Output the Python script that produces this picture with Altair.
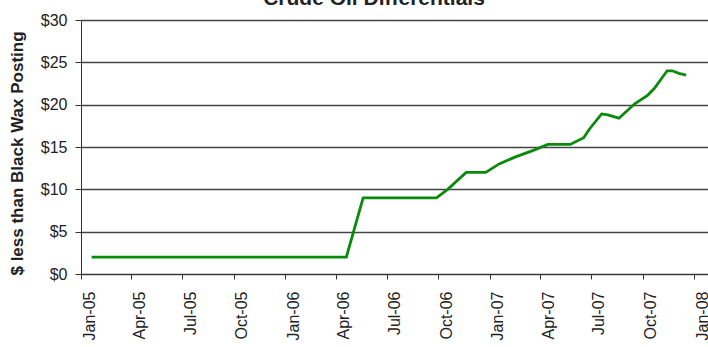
import altair as alt
import pandas as pd

title_text = "Crude Oil Differentials"
y_title = "$ less than Black Wax Posting"

dates = ["2005-01-20", "2006-04-20", "2006-05-20", "2006-09-28", "2006-10-18",
         "2006-11-20", "2006-12-25", "2007-01-18", "2007-02-15", "2007-03-20",
         "2007-04-15", "2007-05-25", "2007-06-18", "2007-06-28", "2007-07-20",
         "2007-07-31", "2007-08-20", "2007-09-17", "2007-10-10", "2007-10-22",
         "2007-11-14", "2007-11-23", "2007-12-05", "2007-12-18"]
values = [2.0, 2.0, 9.0, 9.0, 10.0,
          12.0, 12.0, 13.0, 13.8, 14.6,
          15.3, 15.3, 16.1, 17.1, 18.9,
          18.8, 18.4, 20.1, 21.1, 21.9,
          24.0, 24.0, 23.7, 23.5]

tick_years = [2005, 2005, 2005, 2005, 2006, 2006, 2006, 2006, 2007, 2007, 2007, 2007, 2008]
tick_months = [1, 4, 7, 10, 1, 4, 7, 10, 1, 4, 7, 10, 1]

df = pd.DataFrame({"date": dates, "value": values})

FONT = "Liberation Sans"

x_enc = alt.X(
    "date:T",
    scale=alt.Scale(type="utc",
                    domain=[alt.DateTime(year=2005, month=1, date=1, utc=True),
                            alt.DateTime(year=2008, month=1, date=26, utc=True)]),
    axis=alt.Axis(
        values=[alt.DateTime(year=y, month=m, date=1, utc=True)
                for y, m in zip(tick_years, tick_months)],
        labelExpr="utcFormat(datum.value, '%b-%y')",
        labelAngle=270,
        labelAlign="right", labelBaseline="top",
        labelPadding=12, tickSize=5, grid=False, title=None,
        labelFont=FONT, labelFontSize=16, labelColor="#222",
        domainColor="#333", tickColor="#333", labelOverlap=False,
    ),
)

y_enc = alt.Y(
    "value:Q",
    scale=alt.Scale(domain=[0, 30], nice=False),
    axis=alt.Axis(
        values=[0, 5, 10, 15, 20, 25, 30], format="$.0f",
        tickSize=6, labelPadding=8, grid=True, gridColor="#444", gridWidth=1.3,
        labelFont=FONT, labelFontSize=16, labelColor="#222",
        domainColor="#333", tickColor="#333",
        title=y_title, titleFont=FONT, titleFontSize=17, titleFontWeight="bold",
        titleColor="#222", titleX=-64, titleY=133, titleBaseline="middle",
        titleAngle=270, titleAlign="center",
    ),
)

line = alt.Chart(df).mark_line(color="#0a8a0a", strokeWidth=2.8, clip=False).encode(
    x=x_enc, y=y_enc
)

title = alt.Chart(pd.DataFrame({"t": [title_text]})).mark_text(
    font=FONT, fontSize=21, fontWeight="bold", color="#222",
    align="center", baseline="alphabetic"
).encode(text="t:N", x=alt.value(293), y=alt.value(-15))

chart = alt.layer(line, title).properties(
    width=627, height=254,
    autosize=alt.AutoSizeParams(type="none"),
    padding={"left": 81, "top": 20, "right": 0, "bottom": 73},
    background="white",
).configure_view(strokeWidth=0)

chart.save("out.html", embed_options={"renderer": "svg", "actions": False})
